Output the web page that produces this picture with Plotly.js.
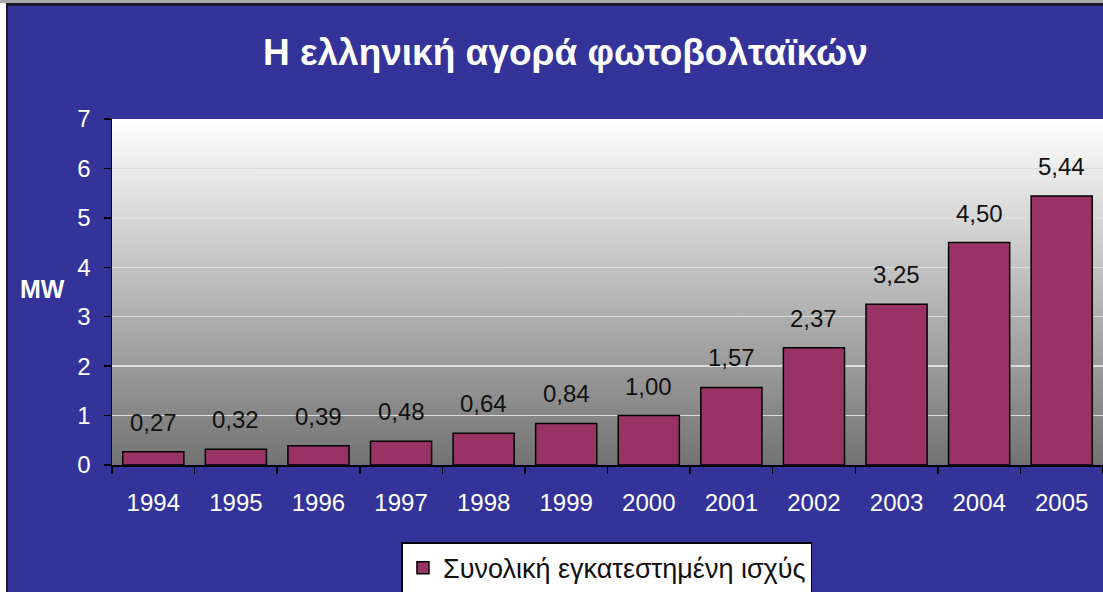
<!DOCTYPE html>
<html>
<head>
<meta charset="utf-8">
<script src="https://cdn.plot.ly/plotly-3.0.1.min.js"></script>
<style>
  html, body { margin: 0; padding: 0; background: #ffffff; overflow: hidden; }
  #topline { position: absolute; left: 0; top: 0; width: 1103px; height: 3px; background: #a9a9a9; }
  #frame { position: absolute; left: 6px; top: 3px; width: 1097px; height: 589px;
           background: #1a1a2a; }
  #chart { position: absolute; left: 8px; top: 6px; width: 1095px; height: 586px; }
</style>
</head>
<body>
<div id="topline"></div>
<div id="frame"></div>
<div id="chart"></div>
<script>
const years = ['1994','1995','1996','1997','1998','1999','2000','2001','2002','2003','2004','2005'];
const capacityMW = [0.27, 0.32, 0.39, 0.48, 0.64, 0.84, 1.00, 1.57, 2.37, 3.25, 4.50, 5.44];
const seriesName = 'Συνολική εγκατεστημένη ισχύς';
const chartTitle = 'Η ελληνική αγορά φωτοβολταϊκών';
const yAxisLabel = 'MW';

// gradient background image for the plot area
const cv = document.createElement('canvas');
cv.width = 4; cv.height = 256;
const ctx = cv.getContext('2d');
const g = ctx.createLinearGradient(0, 0, 0, 256);
g.addColorStop(0, '#ffffff');
g.addColorStop(1, '#737373');
ctx.fillStyle = g;
ctx.fillRect(0, 0, 4, 256);
const gradURL = cv.toDataURL('image/png');

const font = 'Liberation Sans, Arial, sans-serif';

const trace = {
  type: 'bar',
  x: years,
  y: capacityMW,
  name: seriesName,
  marker: { color: '#993366', line: { color: '#000000', width: 1.5 } },
  showlegend: true,
  hoverinfo: 'x+y'
};

// value labels placed above each bar (x = category index on the category axis)
const valueLabels = years.map((yr, i) => ({
  x: i, y: capacityMW[i], xref: 'x', yref: 'y',
  text: capacityMW[i].toFixed(2).replace('.', ','),
  showarrow: false, xanchor: 'center', yanchor: 'bottom', yshift: 14,
  font: { family: font, size: 24, color: '#111111' }
}));

const layout = {
  width: 1095, height: 586,
  paper_bgcolor: '#333399',
  plot_bgcolor: '#ffffff',
  separators: ',.',
  margin: { l: 104, r: 0, t: 113, b: 127 },
  bargap: 0.26,
  title: {
    text: chartTitle,
    font: { family: font, size: 37, color: '#ffffff', weight: 'bold' },
    x: 0.509, xref: 'container', xanchor: 'center',
    y: 0.922, yref: 'container', yanchor: 'middle'
  },
  xaxis: {
    type: 'category',
    categoryarray: years, categoryorder: 'array',
    range: [-0.5, years.length - 0.5], autorange: false,
    tickson: 'boundaries',
    ticks: 'outside', ticklen: 7, tickcolor: '#000000', tickwidth: 1.5,
    showline: true, linecolor: '#000000', linewidth: 1.5,
    tickfont: { family: font, size: 24, color: '#ffffff' },
    tickangle: 0,
    ticklabelstandoff: 16,
    showgrid: false
  },
  yaxis: {
    range: [0, 7], autorange: false, dtick: 1, tick0: 0,
    ticks: 'outside', ticklen: 7, tickcolor: '#000000', tickwidth: 1.5,
    showline: true, linecolor: '#000000', linewidth: 1.5,
    tickfont: { family: font, size: 24, color: '#ffffff' },
    ticklabelstandoff: 8,
    showgrid: true, gridcolor: '#dcdcdc', gridwidth: 1.5,
    zeroline: false
  },
  images: [{
    source: gradURL, xref: 'paper', yref: 'paper',
    x: 0, y: 1, sizex: 1, sizey: 1, sizing: 'stretch',
    xanchor: 'left', yanchor: 'top', layer: 'below'
  }],
  annotations: [{
    text: yAxisLabel, xref: 'paper', yref: 'paper',
    x: -0.07, y: 0.51, xanchor: 'center', yanchor: 'middle',
    showarrow: false,
    font: { family: font, size: 25, color: '#ffffff', weight: 'bold' }
  }].concat(valueLabels),
  showlegend: true,
  legend: {
    orientation: 'h',
    x: 0.547, xref: 'container', xanchor: 'center',
    y: 0.085, yref: 'container', yanchor: 'top',
    bgcolor: '#ffffff', bordercolor: '#000000', borderwidth: 1.5,
    font: { family: font, size: 27, color: '#111111' }
  }
};

Plotly.newPlot('chart', [trace], layout, { displayModeBar: false, staticPlot: true });
</script>
</body>
</html>
